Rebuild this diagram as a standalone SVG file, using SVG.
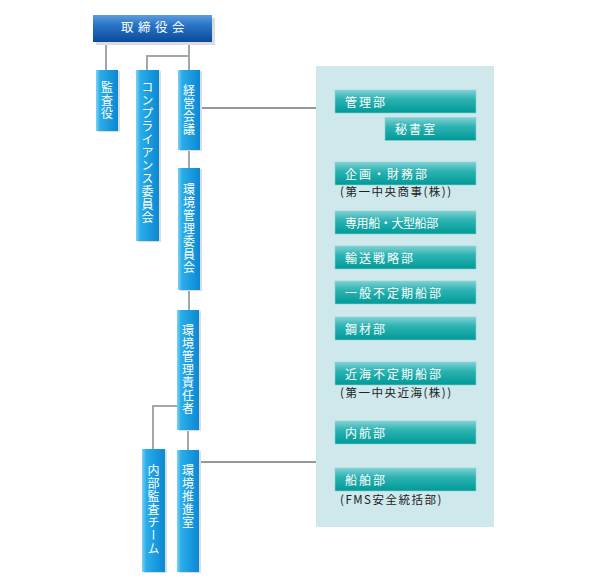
<svg xmlns="http://www.w3.org/2000/svg" width="593" height="587" viewBox="0 0 593 587">
<defs>
<linearGradient id="gTop" x1="0" y1="0" x2="0" y2="1">
<stop offset="0" stop-color="#5c9fdf"/>
<stop offset="0.35" stop-color="#2a76c8"/>
<stop offset="1" stop-color="#0a4a9a"/>
</linearGradient>
<linearGradient id="gBlue" x1="0" y1="0" x2="1" y2="0">
<stop offset="0" stop-color="#7fd2f3"/>
<stop offset="0.18" stop-color="#2badea"/>
<stop offset="1" stop-color="#0a88d3"/>
</linearGradient>
<linearGradient id="gTeal" x1="0" y1="0" x2="0" y2="1">
<stop offset="0" stop-color="#80d0d2"/>
<stop offset="0.4" stop-color="#2cb3b2"/>
<stop offset="1" stop-color="#009996"/>
</linearGradient>
</defs>
<style>
.sh{fill:#dcdcdc}
.top{fill:url(#gTop)}
.blue{fill:url(#gBlue)}
.teal{fill:url(#gTeal);stroke:#8ed3d4;stroke-width:0.6}
.panel{fill:#cee8eb}
.ln{fill:none;stroke:#a0a8aa;stroke-width:2}
.lk{fill:none;stroke:#6f7a7c;stroke-width:1.3}
text{font-family:"Noto Sans CJK JP","Noto Sans",sans-serif}
.vt{writing-mode:vertical-rl;fill:#fff;font-size:12px;letter-spacing:1px}
.ht{fill:#fff;font-size:12px;letter-spacing:2px}
.tight{letter-spacing:-0.4px}
.tt{fill:#fff;font-size:12.5px;letter-spacing:4.5px}
.sub{fill:#222;font-size:11.5px;letter-spacing:1.5px}
</style>
<rect class="panel" x="316" y="66" width="178" height="461"/>
<g id="connectors">
<path class="ln" d="M106 42V70"/>
<path class="ln" d="M189 42V70"/>
<path class="ln" d="M189 56H147V70"/>
<path class="lk" d="M200 108H316"/>
<path class="ln" d="M189 150V168"/>
<path class="ln" d="M189 290V310"/>
<path class="ln" d="M177 406H153V449"/>
<path class="ln" d="M188 430V450"/>
<path class="lk" d="M199 462H316"/>
</g>
<g id="n-board">
<rect class="sh" x="96" y="18" width="119" height="27"/>
<rect class="top" x="93" y="15" width="119" height="27"/>
<text class="tt" x="155" y="32" text-anchor="middle">取締役会</text>
</g>
<g id="n-kansayaku">
<rect class="sh" x="98" y="71" width="22" height="61"/>
<rect class="blue" x="96" y="70" width="22" height="61"/>
<text class="vt" x="107" y="81">監査役</text>
</g>
<g id="n-compliance">
<rect class="sh" x="138" y="71" width="23" height="171"/>
<rect class="blue" x="136" y="70" width="23" height="171"/>
<text class="vt" x="147.5" y="81">コンプライアンス委員会</text>
</g>
<g id="n-keiei">
<rect class="sh" x="180" y="71" width="22" height="80"/>
<rect class="blue" x="178" y="70" width="22" height="80"/>
<text class="vt" x="189" y="84">経営会議</text>
</g>
<g id="n-kankyo-iinkai">
<rect class="sh" x="180" y="169" width="22" height="122"/>
<rect class="blue" x="178" y="168" width="22" height="122"/>
<text class="vt" x="189" y="183">環境管理委員会</text>
</g>
<g id="n-kankyo-sekinin">
<rect class="sh" x="179" y="311" width="22" height="120"/>
<rect class="blue" x="177" y="310" width="22" height="120"/>
<text class="vt" x="188" y="324">環境管理責任者</text>
</g>
<g id="n-naibu">
<rect class="sh" x="144" y="450" width="23" height="123"/>
<rect class="blue" x="142" y="449" width="23" height="123"/>
<text class="vt" x="153.5" y="464">内部監査チーム</text>
</g>
<g id="n-suishin">
<rect class="sh" x="179" y="451" width="22" height="122"/>
<rect class="blue" x="177" y="450" width="22" height="122"/>
<text class="vt" x="188" y="464">環境推進室</text>
</g>
<g id="n-kanri">
<rect class="teal" x="335" y="90" width="141" height="23"/>
<text class="ht" x="345" y="106.5">管理部</text>
</g>
<g id="n-hisho">
<rect class="teal" x="385" y="117.5" width="91" height="23"/>
<text class="ht" x="395" y="134">秘書室</text>
</g>
<g id="n-kikaku">
<rect class="teal" x="335" y="162" width="141" height="23"/>
<text class="ht" x="345" y="178.5">企画・財務部</text>
<text class="sub" x="340" y="196">(第一中央商事(株))</text>
</g>
<g id="n-senyo">
<rect class="teal" x="335" y="211" width="141" height="23"/>
<text class="ht tight" x="345" y="227.5">専用船・大型船部</text>
</g>
<g id="n-yuso">
<rect class="teal" x="335" y="246" width="141" height="23"/>
<text class="ht" x="345" y="262.5">輸送戦略部</text>
</g>
<g id="n-ippan">
<rect class="teal" x="335" y="281" width="141" height="23"/>
<text class="ht" x="345" y="297.5">一般不定期船部</text>
</g>
<g id="n-kozai">
<rect class="teal" x="335" y="317" width="141" height="23"/>
<text class="ht" x="345" y="333.5">鋼材部</text>
</g>
<g id="n-kinkai">
<rect class="teal" x="335" y="362" width="141" height="23"/>
<text class="ht" x="345" y="378.5">近海不定期船部</text>
<text class="sub" x="340" y="397">(第一中央近海(株))</text>
</g>
<g id="n-naiko">
<rect class="teal" x="335" y="421" width="141" height="23"/>
<text class="ht" x="345" y="437.5">内航部</text>
</g>
<g id="n-senpaku">
<rect class="teal" x="335" y="468" width="141" height="23"/>
<text class="ht" x="345" y="484.5">船舶部</text>
<text class="sub" x="340" y="504">(FMS安全統括部)</text>
</g>
</svg>
